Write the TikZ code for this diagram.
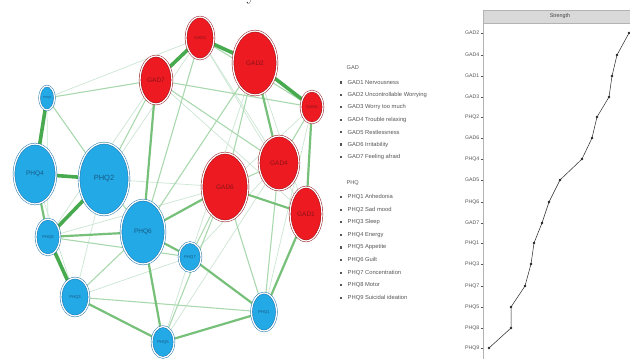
\documentclass[tikz,border=0pt]{standalone}
\usepackage{fontspec}
\setsansfont{Liberation Sans}
\usetikzlibrary{shapes.geometric,backgrounds}
\definecolor{GadFill}{HTML}{EE1A22}
\definecolor{GadLine}{HTML}{8E1016}
\definecolor{GadText}{HTML}{8A1216}
\definecolor{PhqFill}{HTML}{22A9E6}
\definecolor{PhqLine}{HTML}{1C6FA6}
\definecolor{PhqText}{HTML}{195A86}
\definecolor{EdgeStrong}{HTML}{47AA4E}
\definecolor{EdgeMid}{HTML}{76C07A}
\definecolor{EdgeWeak}{HTML}{A9D8AE}
\definecolor{EdgeFaint}{HTML}{CBE5D3}
\definecolor{Ink}{HTML}{555555}
\definecolor{Frame}{HTML}{B3B3B3}
\definecolor{Strip}{HTML}{D9D9D9}
\tikzset{
  gad/.style={ellipse,draw=GadLine,fill=GadFill,line width=.45pt,double=white,double distance=1.3pt,inner sep=0pt,font=\sffamily\fontsize{6.5}{7}\selectfont,text=GadText},
  phq/.style={ellipse,draw=PhqLine,fill=PhqFill,line width=.45pt,double=white,double distance=1.3pt,inner sep=0pt,font=\sffamily\fontsize{6.5}{7}\selectfont,text=PhqText},
  smalllbl/.style={font=\sffamily\fontsize{4.2}{4.5}\selectfont},
  estrong/.style={draw=EdgeStrong,line width=3.6pt},
  emid/.style={draw=EdgeMid,line width=2.2pt},
  eweak/.style={draw=EdgeWeak,line width=1.1pt},
  efaint/.style={draw=EdgeFaint,line width=.7pt},
  lhead/.style={anchor=west,inner sep=0pt,font=\sffamily\fontsize{5.6}{6}\selectfont,text=Ink},
  litem/.style={anchor=west,inner sep=0pt,font=\sffamily\fontsize{5.8}{6}\selectfont,text=Ink},
  bullet/.style={fill=Ink,minimum size=2.2pt,inner sep=0pt},
  ticklbl/.style={anchor=east,inner sep=0pt,font=\sffamily\fontsize{5.2}{6}\selectfont,text=Ink},
  striptext/.style={inner sep=0pt,font=\sffamily\fontsize{5.4}{6}\selectfont,text=Ink!80!black}
}
\begin{document}
\begin{tikzpicture}[x=1pt,y=-1pt]
  \useasboundingbox (0,0) rectangle (630,359);
  \clip (0,0) rectangle (630,359);
  % cut-off caption above
  \node[anchor=base,inner sep=0pt,font=\fontsize{18}{18}\selectfont] (capcut) at (251,0.6) {y};
  % GAD nodes
  \node[gad,minimum width=32pt,minimum height=48pt] (g7) at (156,80) {GAD7};
  \node[gad,smalllbl,minimum width=28pt,minimum height=42pt] (g3) at (200,38) {GAD3};
  \node[gad,minimum width=44pt,minimum height=64pt] (g2) at (255,63) {GAD2};
  \node[gad,smalllbl,minimum width=22pt,minimum height=32pt] (g5) at (312,107) {GAD5};
  \node[gad,minimum width=40pt,minimum height=54pt] (g4) at (279,163) {GAD4};
  \node[gad,minimum width=46pt,minimum height=68pt] (g6) at (225,187) {GAD6};
  \node[gad,minimum width=32pt,minimum height=54pt] (g1) at (306,214) {GAD1};
  % PHQ nodes
  \node[phq,smalllbl,minimum width=15pt,minimum height=24pt,font=\sffamily\fontsize{3}{3}\selectfont] (p9) at (47,98) {PHQ9};
  \node[phq,minimum width=42pt,minimum height=60pt] (p4) at (35,174) {PHQ4};
  \node[phq,font=\sffamily\fontsize{7.5}{8}\selectfont,minimum width=50pt,minimum height=72pt] (p2) at (104,179) {PHQ2};
  \node[phq,smalllbl,minimum width=24pt,minimum height=36pt] (p8) at (48,237) {PHQ8};
  \node[phq,minimum width=44pt,minimum height=64pt] (p6) at (143,232) {PHQ6};
  \node[phq,smalllbl,minimum width=22pt,minimum height=29pt] (p7) at (190,257) {PHQ7};
  \node[phq,smalllbl,minimum width=28pt,minimum height=38pt] (p3) at (75,297) {PHQ3};
  \node[phq,smalllbl,minimum width=22pt,minimum height=31pt] (p5) at (163,342) {PHQ5};
  \node[phq,smalllbl,minimum width=25pt,minimum height=38pt] (p1) at (264,312) {PHQ1};
  % edges
  \begin{scope}[on background layer]
    \foreach \a/\b in {p9/p8,p9/g3,p2/g3,p2/g6,p4/p3,g7/g1,g3/g4,g3/g1,g2/g1,g2/p7,g5/p1,g5/g6,p3/p7,p5/p7,p8/g6,p2/p3,g7/p8,g4/p7,p5/g4}
      \draw[efaint] (\a) -- (\b);
    \foreach \a/\b in {p9/p2,p9/g7,p2/g7,p2/p6,g4/g5,g6/g4,p7/g6,g3/p6,g2/p6,g7/g5,g7/g4,g3/g5,g2/g6,p3/p1,p3/p6,p8/p7,g4/p1,g6/p1,p5/g6}
      \draw[eweak] (\a) -- (\b);
    \foreach \a/\b in {p4/p8,p8/p6,p6/p7,p6/p5,p3/p5,p5/p1,p7/p1,p1/g1,g2/g4,g6/g1,g7/p6,g5/g1,g6/p6}
      \draw[emid] (\a) -- (\b);
    \foreach \a/\b in {p9/p4,p4/p2,p2/p8,p8/p3,g7/g3,g3/g2,g2/g5}
      \draw[estrong] (\a) -- (\b);
  \end{scope}
  % legend
  \node[lhead] (gadhead) at (346.5,68) {GAD};
  \foreach \t [count=\i] in {GAD1 Nervousness,GAD2 Uncontrollable Worrying,GAD3 Worry too much,GAD4 Trouble relaxing,GAD5 Restlessness,GAD6 Irritability,GAD7 Feeling afraid}{
    \node[bullet] (gb\i) at (341,{70.1+12.4*\i}) {};
    \node[litem] (gad\i) at (347.5,{70.1+12.4*\i}) {\t};
  }
  \node[lhead] (phqhead) at (346.5,183) {PHQ};
  \foreach \t [count=\i] in {PHQ1 Anhedonia,PHQ2 Sad mood,PHQ3 Sleep,PHQ4 Energy,PHQ5 Appetite,PHQ6 Guilt,PHQ7 Concentration,PHQ8 Motor,PHQ9 Suicidal ideation}{
    \node[bullet] (pb\i) at (341,{184.4+12.6*\i}) {};
    \node[litem] (phq\i) at (347.5,{184.4+12.6*\i}) {\t};
  }
  % strength panel
  \draw[Frame,fill=white,line width=.5pt] (483,10) rectangle (640,372);
  \draw[Frame,fill=Strip,line width=.5pt] (483,10) rectangle (640,23);
  \node[striptext] (striplbl) at (560,16.5) {Strength};
  \foreach \lab/\yy [count=\i] in {GAD2/33,GAD4/55,GAD1/76,GAD3/97,PHQ2/117,GAD6/138,PHQ4/159,GAD5/180,PHQ6/202,GAD7/223,PHQ1/243,PHQ3/264,PHQ7/286,PHQ5/307,PHQ8/328,PHQ9/348}{
    \draw[Ink,line width=.4pt] (480.5,\yy) -- (483,\yy);
    \node[ticklbl] (tk\i) at (479.5,\yy) {\lab};
  }
  \draw[black!85,line width=.5pt] plot coordinates {(629,33) (617,55) (612,76) (609,97) (597,117) (592,138) (582,159) (560,180) (549,202) (542,223) (534,243) (531,264) (525,286) (511,307) (511,328) (489,348)};
  \foreach \px/\py in {629/33,617/55,612/76,609/97,597/117,592/138,582/159,560/180,549/202,542/223,534/243,531/264,525/286,511/307,511/328,489/348}
    \fill[black!85] (\px,\py) circle (1.3pt);
\end{tikzpicture}
\end{document}
